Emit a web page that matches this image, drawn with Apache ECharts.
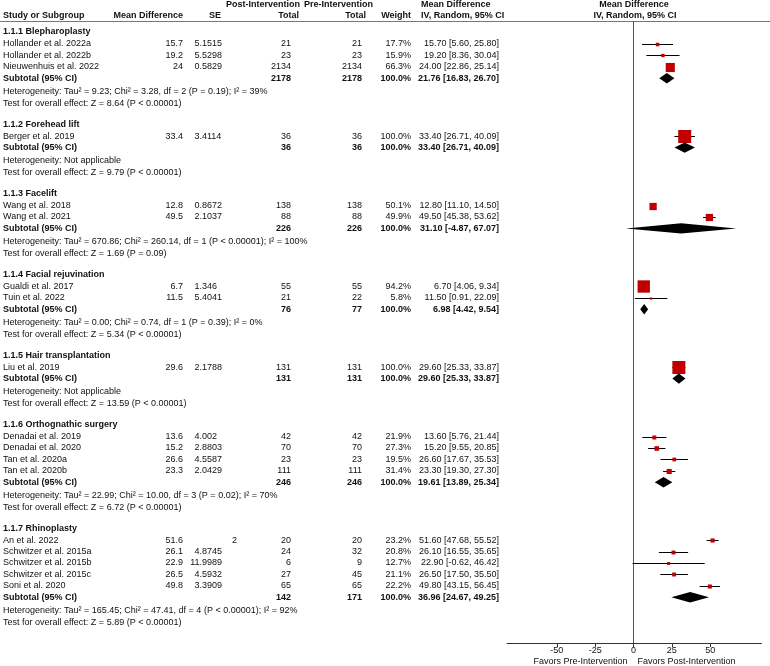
<!DOCTYPE html>
<html><head><meta charset="utf-8">
<script src="https://cdn.jsdelivr.net/npm/echarts@6/dist/echarts.min.js"></script>
<style>html,body{margin:0;padding:0;background:#fff}#c{width:770px;height:666px}</style>
</head><body><div id="c"></div>
<script>
// ---------------- DATA ----------------
const groupNames = ['1.1.1 Blepharoplasty','1.1.2 Forehead lift','1.1.3 Facelift','1.1.4 Facial rejuvination','1.1.5 Hair transplantation','1.1.6 Orthognathic surgery','1.1.7 Rhinoplasty'];
const groupStudyCounts = [3,1,2,2,1,4,5];
const studyNames = ['Hollander et al. 2022a','Hollander et al. 2022b','Nieuwenhuis et al. 2022','Berger et al. 2019','Wang et al. 2018','Wang et al. 2021','Gualdi et al. 2017','Tuin et al. 2022','Liu et al. 2019','Denadai et al. 2019','Denadai et al. 2020','Tan et al. 2020a','Tan et al. 2020b','An et al. 2022','Schwitzer et al. 2015a','Schwitzer et al. 2015b','Schwitzer et al. 2015c','Soni et al. 2020'];
const meanDiff = [15.7,19.2,24,33.4,12.8,49.5,6.7,11.5,29.6,13.6,15.2,26.6,23.3,51.6,26.1,22.9,26.5,49.8];
const seVals = [5.1515,5.5298,0.5829,3.4114,0.8672,2.1037,1.346,5.4041,2.1788,4.002,2.8803,4.5587,2.0429,2,4.8745,11.9989,4.5932,3.3909];
const postTotal = [21,23,2134,36,138,88,55,21,131,42,70,23,111,20,24,6,27,65];
const preTotal = [21,23,2134,36,138,88,55,22,131,42,70,23,111,20,32,9,45,65];
const weightPct = [17.7,15.9,66.3,100.0,50.1,49.9,94.2,5.8,100.0,21.9,27.3,19.5,31.4,23.2,20.8,12.7,21.1,22.2];
const ciLow = [5.60,8.36,22.86,26.71,11.10,45.38,4.06,0.91,25.33,5.76,9.55,17.67,19.30,47.68,16.55,-0.62,17.50,43.15];
const ciHigh = [25.80,30.04,25.14,40.09,14.50,53.62,9.34,22.09,33.87,21.44,20.85,35.53,27.30,55.52,35.65,46.42,35.50,56.45];
const subEstimate = [21.76,33.40,31.10,6.98,29.60,19.61,36.96];
const subLow = [16.83,26.71,-4.87,4.42,25.33,13.89,24.67];
const subHigh = [26.70,40.09,67.07,9.54,33.87,25.34,49.25];
const subPostTotal = [2178,36,226,76,131,246,142];
const subPreTotal = [2178,36,226,77,131,246,171];
const heterogeneity = [
  'Heterogeneity: Tau\u00b2 = 9.23; Chi\u00b2 = 3.28, df = 2 (P = 0.19); I\u00b2 = 39%',
  'Heterogeneity: Not applicable',
  'Heterogeneity: Tau\u00b2 = 670.86; Chi\u00b2 = 260.14, df = 1 (P < 0.00001); I\u00b2 = 100%',
  'Heterogeneity: Tau\u00b2 = 0.00; Chi\u00b2 = 0.74, df = 1 (P = 0.39); I\u00b2 = 0%',
  'Heterogeneity: Not applicable',
  'Heterogeneity: Tau\u00b2 = 22.99; Chi\u00b2 = 10.00, df = 3 (P = 0.02); I\u00b2 = 70%',
  'Heterogeneity: Tau\u00b2 = 165.45; Chi\u00b2 = 47.41, df = 4 (P < 0.00001); I\u00b2 = 92%'
];
const overallTest = [
  'Test for overall effect: Z = 8.64 (P < 0.00001)',
  'Test for overall effect: Z = 9.79 (P < 0.00001)',
  'Test for overall effect: Z = 1.69 (P = 0.09)',
  'Test for overall effect: Z = 5.34 (P < 0.00001)',
  'Test for overall effect: Z = 13.59 (P < 0.00001)',
  'Test for overall effect: Z = 6.72 (P < 0.00001)',
  'Test for overall effect: Z = 5.89 (P < 0.00001)'
];
const axisTicks = [-50,-25,0,25,50];
const favorLabels = ['Favors Pre-Intervention','Favors Post-Intervention'];

// ---------------- LAYOUT / STYLE ----------------
const FONT = '"Liberation Sans", Arial, Helvetica, sans-serif';
const FS = 9;
const TEXT = '#111';
const RED = '#c00000';
const COL = {name:3, md:183, seDot:199.5, seInt:237, post:291, pre:362, w:411, ci:499};
const LAY = {y0:32, a:12, s:11.4, h:13, t:12, g:21, axisY:643, headerLine:21};

const rows = [];
(function(){
  let y = LAY.y0, si = 0;
  groupNames.forEach((gname, g) => {
    rows.push({kind:'group', g, y}); y += LAY.a;
    for (let k = 0; k < groupStudyCounts[g]; k++) { rows.push({kind:'study', i: si++, y}); y += LAY.s; }
    rows.push({kind:'sub', g, y}); y += LAY.h;
    rows.push({kind:'het', g, y}); y += LAY.t;
    rows.push({kind:'test', g, y}); y += LAY.g;
  });
})();

function fontOf(bold){ return (bold ? 'bold ' : '') + FS + 'px ' + FONT; }
function ciText(e, lo, hi){ return e.toFixed(2) + ' [' + lo.toFixed(2) + ', ' + hi.toFixed(2) + ']'; }

function renderRow(params, api) {
  const r = rows[params.dataIndex];
  const y = api.coord([0, r.y])[1];
  const kids = [];
  const T = (text, x, align, bold) => kids.push({type:'text', x: x, y: y,
    style:{text: text, fill: TEXT, font: fontOf(bold), align: align, verticalAlign:'middle'}});
  if (r.kind === 'group') {
    T(groupNames[r.g], COL.name, 'left', true);
  } else if (r.kind === 'study') {
    const i = r.i;
    T(studyNames[i], COL.name, 'left', false);
    T(String(meanDiff[i]), COL.md, 'right', false);
    const s = String(seVals[i]); const p = s.indexOf('.');
    if (p < 0) T(s, COL.seInt, 'right', false);
    else { T(s.slice(0, p), COL.seDot, 'right', false); T(s.slice(p), COL.seDot, 'left', false); }
    T(String(postTotal[i]), COL.post, 'right', false);
    T(String(preTotal[i]), COL.pre, 'right', false);
    T(weightPct[i].toFixed(1) + '%', COL.w, 'right', false);
    T(ciText(meanDiff[i], ciLow[i], ciHigh[i]), COL.ci, 'right', false);
    const xl = api.coord([ciLow[i], r.y])[0], xh = api.coord([ciHigh[i], r.y])[0], xc = api.coord([meanDiff[i], r.y])[0];
    const yy = Math.round(y) + 0.5;
    kids.push({type:'line', shape:{x1:xl, y1:yy, x2:xh, y2:yy}, style:{stroke:'#000', lineWidth:1}});
    const sz = 1.5 + 11.5 * weightPct[i] / 100;
    kids.push({type:'rect', shape:{x: xc - sz/2, y: yy - sz/2, width: sz, height: sz}, style:{fill: RED}});
  } else if (r.kind === 'sub') {
    const g = r.g;
    T('Subtotal (95% CI)', COL.name, 'left', true);
    T(String(subPostTotal[g]), COL.post, 'right', true);
    T(String(subPreTotal[g]), COL.pre, 'right', true);
    T('100.0%', COL.w, 'right', true);
    T(ciText(subEstimate[g], subLow[g], subHigh[g]), COL.ci, 'right', true);
    const xl = api.coord([subLow[g], r.y])[0], xh = api.coord([subHigh[g], r.y])[0], xc = api.coord([subEstimate[g], r.y])[0];
    const hh = 5.2;
    kids.push({type:'polygon', shape:{points:[[xl, y], [xc, y - hh], [xh, y], [xc, y + hh]]}, style:{fill:'#000'}});
  } else if (r.kind === 'het') {
    T(heterogeneity[r.g], COL.name, 'left', false);
  } else if (r.kind === 'test') {
    T(overallTest[r.g], COL.name, 'left', false);
  }
  return {type:'group', children: kids};
}

function renderZero(params, api) {
  const top = api.coord([0, LAY.headerLine]);
  const bot = api.coord([0, LAY.axisY]);
  const x = Math.round(top[0]) + 0.5;
  return {type:'group', children:[
    {type:'line', shape:{x1:x, y1:top[1], x2:x, y2:bot[1]}, style:{stroke:'#555', lineWidth:1}},
    {type:'text', x: x - 6, y: 662, style:{text: favorLabels[0], fill: TEXT, font: fontOf(false), align:'right', verticalAlign:'middle'}},
    {type:'text', x: x + 4, y: 662, style:{text: favorLabels[1], fill: TEXT, font: fontOf(false), align:'left', verticalAlign:'middle'}}
  ]};
}

function hdr(text, x, y, align) {
  return {type:'text', x: x, y: y, style:{text: text, fill: TEXT, font: fontOf(true), align: align, verticalAlign:'middle'}};
}

const chart = echarts.init(document.getElementById('c'), null, {renderer:'canvas'});
chart.setOption({
  animation: false,
  backgroundColor: '#fff',
  grid: {left: 507, right: 8.5, top: 0, bottom: 666 - LAY.axisY, containLabel: false, outerBoundsMode: 'none'},
  xAxis: {
    type: 'value', min: -82.5, max: 83.5,
    axisLine: {show: true, onZero: false, lineStyle: {color: '#333', width: 1}},
    axisTick: {show: true, customValues: axisTicks, length: 4, inside: false, lineStyle: {color: '#333'}},
    axisLabel: {show: true, customValues: axisTicks, fontSize: FS, fontFamily: FONT, color: TEXT, margin: 3},
    splitLine: {show: false}
  },
  yAxis: {type: 'value', min: 0, max: LAY.axisY, inverse: true, show: false},
  graphic: [
    {type:'line', shape:{x1:0, y1:LAY.headerLine + 0.5, x2:770, y2:LAY.headerLine + 0.5}, style:{stroke:'#777', lineWidth:1}},
    hdr('Post-Intervention', 300, 5, 'right'),
    hdr('Pre-Intervention', 373, 5, 'right'),
    hdr('Mean Difference', 421, 5, 'left'),
    hdr('Mean Difference', 634, 5, 'center'),
    hdr('Study or Subgroup', 3, 16, 'left'),
    hdr('Mean Difference', 183, 16, 'right'),
    hdr('SE', 215, 16, 'center'),
    hdr('Total', 299, 16, 'right'),
    hdr('Total', 366, 16, 'right'),
    hdr('Weight', 411, 16, 'right'),
    hdr('IV, Random, 95% CI', 421, 16, 'left'),
    hdr('IV, Random, 95% CI', 635, 16, 'center')
  ],
  series: [
    {type:'custom', clip:false, silent:true, renderItem: renderZero, data:[[0, 0]], z: 1},
    {type:'custom', clip:false, silent:true, renderItem: renderRow, data: rows.map((r, k) => [0, r.y, k]), z: 2}
  ]
});
</script></body></html>
